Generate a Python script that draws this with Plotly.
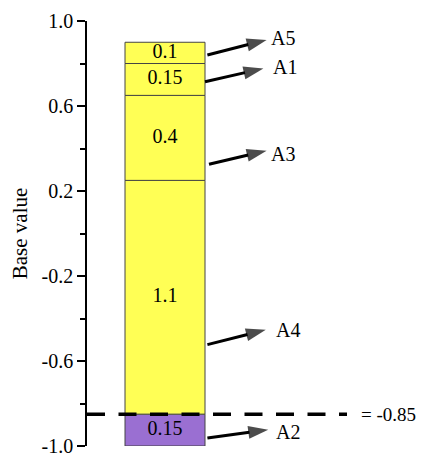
import numpy as np
import plotly.graph_objects as go

# ---- data ----
start_value = -1.0
segment_names = ["A2", "A4", "A3", "A1", "A5"]
segment_values = [0.15, 1.1, 0.4, 0.15, 0.1]
segment_labels = ["0.15", "1.1", "0.4", "0.15", "0.1"]
threshold_value = -0.85
threshold_label = "= -0.85"
tick_vals = [-1.0, -0.6, -0.2, 0.2, 0.6, 1.0]
tick_labels = ["-1.0", "-0.6", "-0.2", "0.2", "0.6", "1.0"]
axis_title = "Base value"

# ---- styles / layout ----
FONT = "Liberation Serif"
YELLOW = "#ffff55"
PURPLE = "#9a6fd2"
seg_colors = [PURPLE, YELLOW, YELLOW, YELLOW, YELLOW]

vals = np.array(segment_values)
bases = start_value + np.concatenate([[0], np.cumsum(vals)[:-1]])
centers = bases + vals / 2

# arrow geometry (x in bar-width units, y in axis units): tail, head, label
arrow_layout = {
    "A5": ((0.53, 0.840), (1.27, 0.911), (1.30, 0.92)),
    "A1": ((0.50, 0.714), (1.23, 0.777), (1.32, 0.785)),
    "A3": ((0.55, 0.326), (1.27, 0.390), (1.30, 0.374)),
    "A4": ((0.53, -0.523), (1.26, -0.453), (1.36, -0.453)),
    "A2": ((0.53, -0.962), (1.29, -0.923), (1.36, -0.934)),
}

fig = go.Figure()
fig.add_trace(go.Bar(
    x=[0] * len(vals), y=vals, base=bases, width=1.0,
    marker=dict(color=seg_colors, line=dict(color="#444444", width=1)),
    hoverinfo="skip", showlegend=False,
))
fig.add_trace(go.Scatter(
    x=[0] * len(vals), y=centers, mode="text", text=segment_labels,
    textfont=dict(family=FONT, size=20, color="black"),
    showlegend=False, hoverinfo="skip",
))

for name in segment_names:
    (tx, ty), (hx, hy), (lx, ly) = arrow_layout[name]
    fig.add_trace(go.Scatter(
        x=[tx, hx], y=[ty, hy], mode="lines+markers",
        line=dict(color="black", width=3),
        marker=dict(symbol=["circle", "arrow"], size=[0, 21], color="black",
                    angleref="previous", line=dict(width=0)),
        showlegend=False, hoverinfo="skip", cliponaxis=False,
    ))
    fig.add_annotation(x=lx, y=ly, text=name, showarrow=False,
                       xanchor="left", yanchor="middle",
                       font=dict(family=FONT, size=20, color="black"))

xmin, xmax = -0.975, 3.2625
fig.add_shape(type="line", xref="x", yref="y", x0=xmin, x1=2.275,
              y0=threshold_value, y1=threshold_value, layer="above",
              line=dict(color="black", width=3.5, dash="18px,13.5px"))
fig.add_annotation(x=2.42, y=threshold_value, text=threshold_label,
                   showarrow=False, xanchor="left", yanchor="middle",
                   font=dict(family=FONT, size=19, color="black"))

fig.update_layout(
    width=418, height=448,
    margin=dict(l=79, r=0, t=13, b=10, autoexpand=False),
    paper_bgcolor="white", plot_bgcolor="white",
    barmode="overlay",
    font=dict(family=FONT, size=20, color="black"),
    xaxis=dict(range=[xmin, xmax], visible=False, fixedrange=True),
    yaxis=dict(
        range=[-1.0, 1.0], tickvals=tick_vals, ticktext=tick_labels,
        ticks="outside", ticklen=8, tickwidth=1.5, tickcolor="black",
        showline=True, linecolor="black", linewidth=1.5,
        showgrid=False, zeroline=False, automargin=False,
        ticklabeloverflow="allow",
        minor=dict(tick0=0, dtick=0.4, ticks="outside", ticklen=5,
                   tickwidth=1.5, tickcolor="black", showgrid=False),
        tickfont=dict(family=FONT, size=20, color="black"),
        title=dict(text=axis_title, font=dict(family=FONT, size=21, color="black"),
                   standoff=8),
    ),
)

fig.write_html("out.html")
